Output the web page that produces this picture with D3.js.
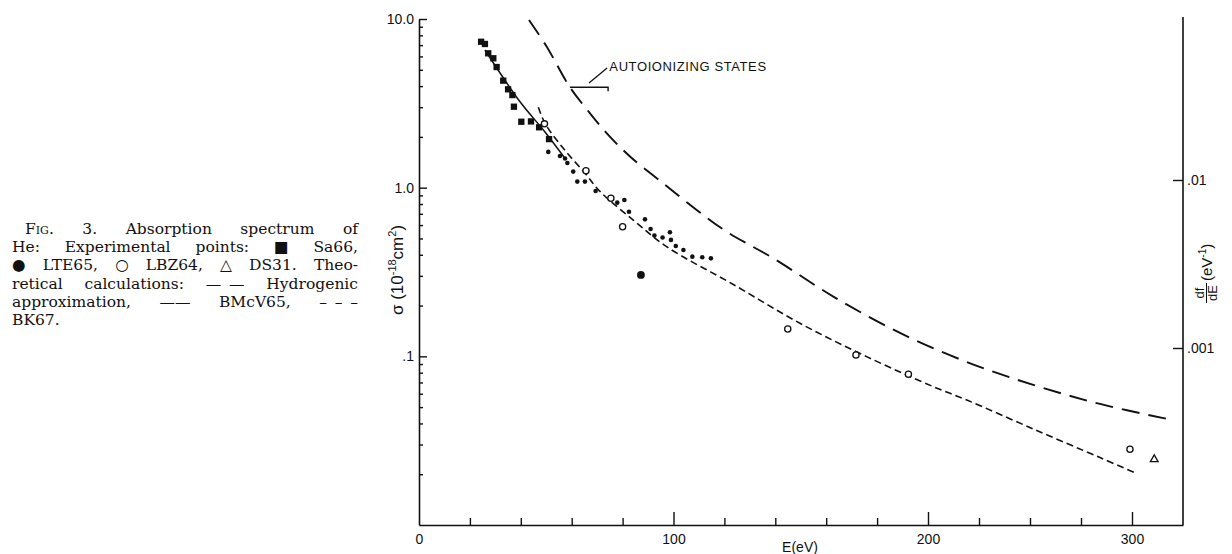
<!DOCTYPE html>
<html><head><meta charset="utf-8">
<script src="https://cdn.jsdelivr.net/npm/d3@7"></script>
<style>
body{margin:0;background:#fff;}
svg{display:block;}
</style></head><body>
<svg id="c" width="1232" height="554"></svg>
<script>
// ---------------- data ----------------
const sa66E = [24.4, 25.9, 27.2, 29.2, 30.5, 33.1, 35.0, 36.7, 37.3, 40.2, 44.0, 47.2, 51.1];
const sa66S = [7.33, 7.11, 6.26, 5.85, 5.19, 4.31, 3.83, 3.54, 3.02, 2.46, 2.47, 2.28, 1.94];

const lte65E = [50.8, 55.4, 57.4, 58.3, 60.6, 62.2, 65.2, 69.4, 77.9, 80.7, 82.5, 88.8, 91.0, 92.5, 95.7, 98.6, 99.0, 100.9, 103.9, 107.4, 111.3, 114.7];
const lte65S = [1.63, 1.54, 1.49, 1.40, 1.245, 1.086, 1.086, 0.956, 0.815, 0.845, 0.72, 0.649, 0.569, 0.52, 0.506, 0.544, 0.49, 0.451, 0.427, 0.39, 0.387, 0.381];

const lte65BigE = [87.2];
const lte65BigS = [0.304];

const lbz64E = [49.3, 65.6, 75.4, 80.0, 144.9, 171.7, 192.3, 299];
const lbz64S = [2.39, 1.26, 0.865, 0.587, 0.1453, 0.1019, 0.0783, 0.0281];

const ds31E = [310.9];
const ds31S = [0.0245];

const hydroE = [43.2, 50.2, 59.3, 67.2, 73.8, 82.9, 96.0, 109.1, 120.9, 139.2, 162.8, 189.0, 219.0, 251.6, 284.3, 317.0];
const hydroS = [9.86, 6.85, 3.94, 2.76, 2.10, 1.53, 1.06, 0.738, 0.548, 0.3815, 0.226, 0.1376, 0.0926, 0.0677, 0.0522, 0.0426];

const bmcE = [25.9, 39.7, 49.5, 57.4];
const bmcS = [6.55, 3.23, 2.14, 1.49];

const bkE = [46.9, 49.5, 56.7, 65.2, 71.1, 84.2, 97.3, 123.5, 149.7, 175.9, 202.6, 219.0, 251.6, 284.3, 302.3];
const bkS = [3.0, 2.41, 1.71, 1.22, 0.95, 0.643, 0.447, 0.2667, 0.157, 0.0996, 0.0661, 0.0551, 0.0371, 0.0251, 0.0202];

const xMajorTicks = [0, 100, 200, 300];
const xMajorLabels = ["0", "100", "200", "300"];
const xMinorTicks = [20, 40, 60, 80, 120, 140, 160, 180, 225, 250, 275];
const yMajorTicks = [10, 1, 0.1];
const yMajorLabels = ["10.0", "1.0", ".1"];
const yRightTicks = [0.01, 0.001];
const yRightLabels = [".01", ".001"];

const captionLines = [
  "Fig. 3. Absorption spectrum of",
  "He: Experimental points: \u25A0 Sa66,",
  "\u25CF LTE65, \u25CB LBZ64, \u25B3 DS31. Theo-",
  "retical calculations: \u2014\u2002\u2014 Hydrogenic",
  "approximation, \u2014\u2014 BMcV65, \u2013\u2002\u2013\u2002\u2013",
  "BK67."
];
const annotText = "AUTOIONIZING STATES";

// ---------------- layout ----------------
const svg = d3.select("#c");
const X0 = 419, X200 = 928, X1 = 1183, YT = 19, YB = 525;
const x = d3.scaleLinear().domain([0, 200, 325]).range([X0, X200, X1]);
const y = d3.scaleLog().domain([0.01, 10]).range([YB, YT]);
const yR = d3.scaleLog().domain([0.001, 0.01]).range([348, 180]);

const axisFont = "'Liberation Sans', Arial, sans-serif";
const ink = "#111";

function styleAxis(g) {
  g.selectAll("path.domain").attr("stroke", ink).attr("stroke-width", 1.6);
  g.selectAll(".tick line").attr("stroke", ink).attr("stroke-width", 1.4);
  g.selectAll(".tick text").attr("fill", ink).style("font-family", axisFont).style("font-size", "14px");
}

// left axis major
const gL = svg.append("g").attr("transform", `translate(${X0},0)`)
  .call(d3.axisLeft(y).tickValues(yMajorTicks).tickSizeInner(-8).tickSizeOuter(0).tickPadding(5)
    .tickFormat((d, i) => yMajorLabels[i]));
styleAxis(gL);
// left axis minor
const yMinor = [];
[0.01, 0.1, 1].forEach(dec => { for (let k = 2; k <= 9; k++) yMinor.push(+(k * dec).toPrecision(3)); });
const gLm = svg.append("g").attr("transform", `translate(${X0},0)`)
  .call(d3.axisLeft(y).tickValues(yMinor).tickSizeInner(-4).tickSizeOuter(0).tickFormat(""));
gLm.select("path.domain").remove();
styleAxis(gLm);

// bottom axis
const gB = svg.append("g").attr("transform", `translate(0,${YB})`)
  .call(d3.axisBottom(x).tickValues(xMajorTicks).tickSizeInner(-13).tickSizeOuter(0).tickPadding(9)
    .tickFormat((d, i) => xMajorLabels[i]));
styleAxis(gB);
gB.selectAll(".tick").filter(d => d === 0).select("line").remove();
const gBm = svg.append("g").attr("transform", `translate(0,${YB})`)
  .call(d3.axisBottom(x).tickValues(xMinorTicks).tickSizeInner(-7).tickSizeOuter(0).tickFormat(""));
gBm.select("path.domain").remove();
styleAxis(gBm);

// right axis
svg.append("line").attr("x1", X1).attr("x2", X1).attr("y1", 17).attr("y2", YB)
  .attr("stroke", ink).attr("stroke-width", 1.6);
const gR = svg.append("g").attr("transform", `translate(${X1},0)`)
  .call(d3.axisRight(yR).tickValues(yRightTicks).tickSizeInner(-10).tickSizeOuter(0).tickPadding(4)
    .tickFormat((d, i) => yRightLabels[i]));
gR.select("path.domain").remove();
styleAxis(gR);

// axis titles
svg.append("text").attr("x", 800).attr("y", 552).attr("text-anchor", "middle")
  .style("font-family", axisFont).style("font-size", "14px").attr("fill", ink).text("E(eV)");

const yl = svg.append("text").attr("transform", "translate(403,270) rotate(-90)")
  .attr("text-anchor", "middle").style("font-family", axisFont).style("font-size", "17px").attr("fill", ink);
yl.append("tspan").text("\u03C3 (10");
yl.append("tspan").attr("dy", -7).style("font-size", "11px").text("-18");
yl.append("tspan").attr("dy", 7).text("cm");
yl.append("tspan").attr("dy", -7).style("font-size", "11px").text("2");
yl.append("tspan").attr("dy", 7).text(")");

const rl = svg.append("g").attr("transform", "translate(1206,266) rotate(-90)")
  .style("font-family", axisFont).attr("fill", ink);
rl.append("text").attr("x", -27).attr("y", -2).attr("text-anchor", "middle").style("font-size", "13px").text("df");
rl.append("line").attr("x1", -37).attr("x2", -17).attr("y1", 0.5).attr("y2", 0.5).attr("stroke", ink).attr("stroke-width", 1);
rl.append("text").attr("x", -27).attr("y", 11).attr("text-anchor", "middle").style("font-size", "13px").text("dE");
const rl2 = rl.append("text").attr("x", -15).attr("y", 6).style("font-size", "15px");
rl2.append("tspan").text("(eV");
rl2.append("tspan").attr("dy", -6).style("font-size", "10px").text("-1");
rl2.append("tspan").attr("dy", 6).text(")");

// ---------------- curves ----------------
const line = d3.line().x(d => x(d[0])).y(d => y(d[1])).curve(d3.curveCatmullRom.alpha(0.5));
const zip = (a, b) => a.map((v, i) => [v, b[i]]);

svg.append("path").attr("d", line(zip(hydroE, hydroS))).attr("fill", "none")
  .attr("stroke", ink).attr("stroke-width", 1.9).attr("stroke-dasharray", "18,9");
svg.append("path").attr("d", line(zip(bkE, bkS))).attr("fill", "none")
  .attr("stroke", ink).attr("stroke-width", 1.6).attr("stroke-dasharray", "7,4");
svg.append("path").attr("d", line(zip(bmcE, bmcS))).attr("fill", "none")
  .attr("stroke", ink).attr("stroke-width", 1.5);

// ---------------- annotation ----------------
const aE0 = 59.3, aE1 = 74.3, aS = 3.94;
svg.append("path")
  .attr("d", `M${x(aE0)},${y(aS)}H${x(aE1)}V${y(aS) + 4}`)
  .attr("fill", "none").attr("stroke", ink).attr("stroke-width", 1.4);
svg.append("line").attr("x1", x(66.8)).attr("y1", y(4.18)).attr("x2", x(73.9)).attr("y2", y(5.12))
  .attr("stroke", ink).attr("stroke-width", 1.3);
svg.append("text").attr("x", x(74.8)).attr("y", y(4.9)).style("font-family", axisFont)
  .style("font-size", "13px").style("letter-spacing", "0.6px").attr("fill", ink).text(annotText);

// ---------------- points ----------------
svg.append("g").selectAll("path").data(zip(sa66E, sa66S)).join("path")
  .attr("transform", d => `translate(${x(d[0])},${y(d[1])})`)
  .attr("d", d3.symbol(d3.symbolSquare, 40)).attr("fill", ink);
svg.append("g").selectAll("circle").data(zip(lte65E, lte65S)).join("circle")
  .attr("cx", d => x(d[0])).attr("cy", d => y(d[1])).attr("r", 2.3).attr("fill", ink);
svg.append("g").selectAll("circle").data(zip(lte65BigE, lte65BigS)).join("circle")
  .attr("cx", d => x(d[0])).attr("cy", d => y(d[1])).attr("r", 3.9).attr("fill", ink);
svg.append("g").selectAll("circle").data(zip(lbz64E, lbz64S)).join("circle")
  .attr("cx", d => x(d[0])).attr("cy", d => y(d[1])).attr("r", 3.1)
  .attr("fill", "#fff").attr("stroke", ink).attr("stroke-width", 1.3);
svg.append("g").selectAll("path").data(zip(ds31E, ds31S)).join("path")
  .attr("transform", d => `translate(${x(d[0])},${y(d[1])})`)
  .attr("d", d3.symbol(d3.symbolTriangle, 26)).attr("fill", "none").attr("stroke", ink).attr("stroke-width", 1.3);

// ---------------- caption ----------------
const capFont = "'DejaVu Serif', 'Liberation Serif', serif";
const capRight = 358;
captionLines.forEach((ln, li) => {
  const left = li === 0 ? 25 : 12;
  const by = 234 + li * 18.2;
  const words = ln.split(" ");
  const g = svg.append("g");
  const nodes = words.map((w, wi) => {
    const t = g.append("text").attr("y", by).style("font-family", capFont).style("font-size", "15.5px").attr("fill", ink);
    if (li === 0 && wi === 0) t.style("font-variant", "small-caps");
    t.text(w);
    return t;
  });
  const widths = nodes.map(n => n.node().getComputedTextLength());
  const total = d3.sum(widths);
  const justify = li < captionLines.length - 1;
  const gap = justify ? Math.max(4, (capRight - left - total) / (words.length - 1)) : 5;
  let cx = left;
  nodes.forEach((n, i) => { n.attr("x", cx); cx += widths[i] + gap; });
});
</script>
</body></html>
